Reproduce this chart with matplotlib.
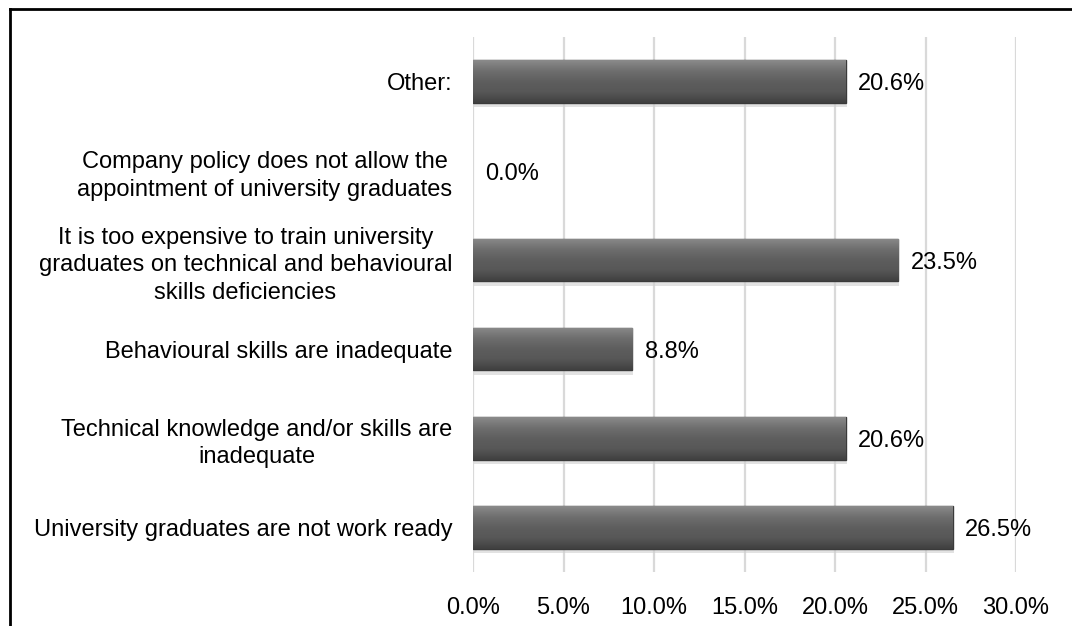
import matplotlib
matplotlib.use("Agg")
import matplotlib.pyplot as plt
import numpy as np
from matplotlib.lines import Line2D

# Reasons for not appointing university graduates (share of respondents, %)
categories = [
    "University graduates are not work ready",
    "Technical knowledge and/or skills are\ninadequate",
    "Behavioural skills are inadequate",
    "It is too expensive to train university\ngraduates on technical and behavioural\nskills deficiencies",
    "Company policy does not allow the\nappointment of university graduates",
    "Other:",
]
values = [26.5, 20.6, 8.8, 23.5, 0.0, 20.6]
xticks = [0, 5, 10, 15, 20, 25, 30]

plt.rcParams["font.family"] = ["Liberation Sans", "DejaVu Sans"]
FS = 17

fig = plt.figure(figsize=(10.72, 6.26), dpi=100)
ax = fig.add_axes([473 / 1072, 1 - 572 / 626, (1016 - 473) / 1072, (572 - 37) / 626])

y = np.arange(len(categories))
bars = ax.barh(y, values, height=0.48, color="#595959", edgecolor="#3a3a3a",
               linewidth=1.0, zorder=3)

# Soft bevel: vertical gradient clipped to each bar
grad = np.linspace(0, 1, 64).reshape(-1, 1)
cmap = matplotlib.colors.LinearSegmentedColormap.from_list(
    "bevel", ["#404040", "#575757", "#5e5e5e", "#6e6e6e", "#8a8a8a"])
for b in bars:
    if b.get_width() <= 0:
        b.set_visible(False)
        continue
    x0, y0 = b.get_x(), b.get_y()
    w, h = b.get_width(), b.get_height()
    # drop shadow under the bar
    ax.add_patch(plt.Rectangle((x0 + 0.05, y0 - 0.05), w, h, facecolor="#d0d0d0",
                               edgecolor="none", alpha=0.6, zorder=2))
    im = ax.imshow(grad, cmap=cmap, aspect="auto", origin="lower",
                   extent=(x0, x0 + w, y0, y0 + h), zorder=3.5)
    im.set_clip_path(b)

for b, v in zip(bars, values):
    ax.annotate(f"{v:.1f}%", (b.get_width(), b.get_y() + b.get_height() / 2),
                xytext=(9, -2), textcoords="offset points",
                va="center", ha="left", fontsize=FS, color="#000000", zorder=5)

ax.set_xlim(0, 30)
ax.set_ylim(-0.5, len(categories) - 0.5)
ax.set_xticks(xticks)
ax.set_xticklabels([f"{t:.1f}%" for t in xticks], fontsize=FS)
ax.set_yticks(y)
ax.set_yticklabels(categories, fontsize=FS, multialignment="center", linespacing=1.33)
ax.tick_params(axis="both", length=0)
ax.tick_params(axis="x", pad=18)
ax.tick_params(axis="y", pad=15)
ax.xaxis.grid(True, color="#d9d9d9", linewidth=1.6, zorder=0)
ax.set_axisbelow(True)
for s in ax.spines.values():
    s.set_visible(False)

# Outer frame (top and left edges)
fig.add_artist(Line2D([9.5 / 1072, 1], [1 - 9 / 626, 1 - 9 / 626],
                      transform=fig.transFigure, color="black", linewidth=2))
fig.add_artist(Line2D([9.5 / 1072, 9.5 / 1072], [0, 1 - 9 / 626],
                      transform=fig.transFigure, color="black", linewidth=2))

fig.savefig("out.png", dpi=100)
